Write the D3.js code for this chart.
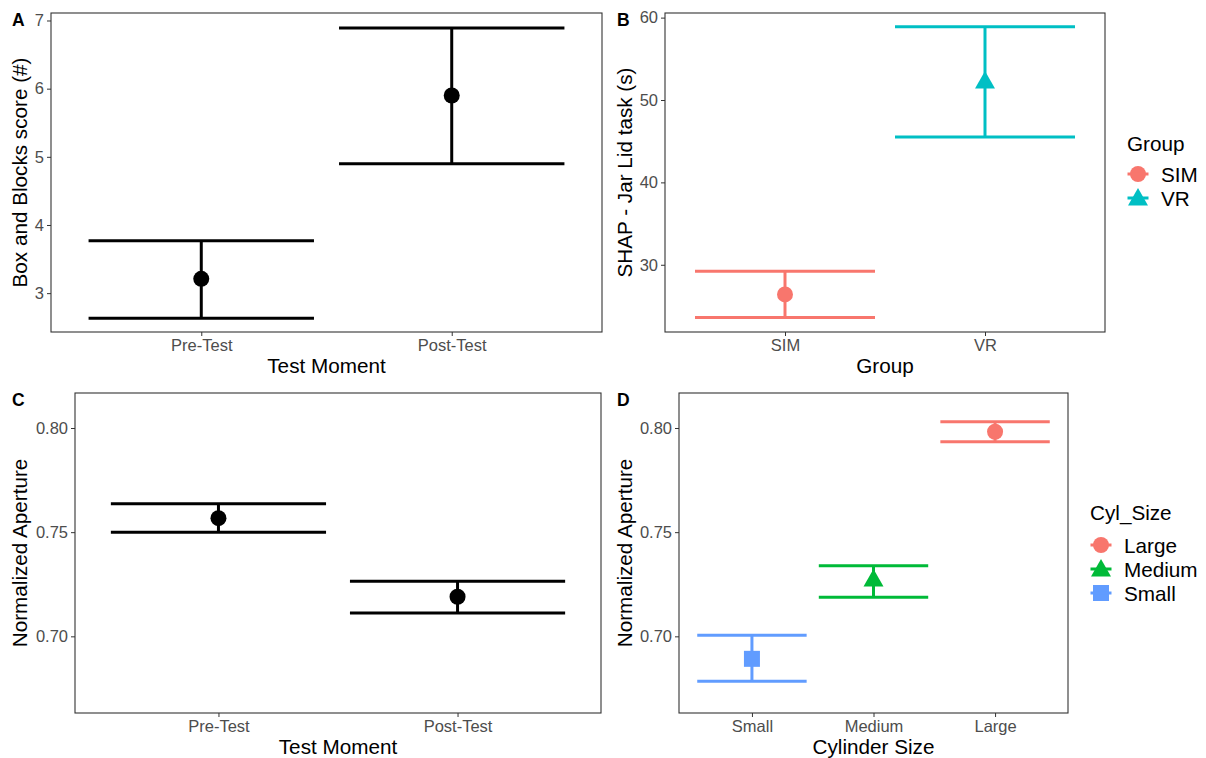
<!DOCTYPE html>
<html>
<head>
<meta charset="utf-8">
<script src="https://cdn.jsdelivr.net/npm/d3@7"></script>
<style>
  body { margin: 0; background: #fff; }
  svg { font-family: "Liberation Sans", Arial, sans-serif; }
</style>
</head>
<body>
<svg id="chart" width="1206" height="758"></svg>
<script>
// Panel A - Box and Blocks
const aCats = ["Pre-Test", "Post-Test"];
const aMean = [3.21, 5.90];
const aLow = [2.63, 4.90];
const aHigh = [3.77, 6.89];

// Panel B - SHAP jar lid
const bCats = ["SIM", "VR"];
const bMean = [26.4, 52.3];
const bLow = [23.6, 45.5];
const bHigh = [29.2, 58.9];

// Panel C - aperture by test moment
const cCats = ["Pre-Test", "Post-Test"];
const cMean = [0.7567, 0.7190];
const cLow = [0.7500, 0.7112];
const cHigh = [0.7636, 0.7265];

// Panel D - aperture by cylinder size
const dCats = ["Small", "Medium", "Large"];
const dMean = [0.6892, 0.7275, 0.7982];
const dLow = [0.6785, 0.7188, 0.7934];
const dHigh = [0.7005, 0.7339, 0.8030];

const yTicksA = [3, 4, 5, 6, 7];
const yTicksB = [30, 40, 50, 60];
const yTicksCD = [0.70, 0.75, 0.80];

const svg = d3.select("#chart");
const TICK_FS = 16.5, TITLE_FS = 20.7;

function panel(o) {
  const g = svg.append("g");
  const n = o.cats.length;
  const x = d3.scaleLinear().domain([0.4, n + 0.6]).range([o.x0, o.x1]);
  const y = d3.scaleLinear().domain(o.ydom).range([o.y1, o.y0]);

  // panel letter
  g.append("text").attr("x", o.letterX).attr("y", o.y0 + 13)
    .attr("font-size", 17.5).attr("font-weight", "bold").text(o.letter);

  // error bars
  o.cats.forEach((c, i) => {
    const cx = x(i + 1), col = o.colors[i];
    const hw = x(1.45) - x(1);
    const eb = g.append("g").attr("stroke", col).attr("stroke-width", 3).attr("fill", "none");
    eb.append("line").attr("x1", cx - hw).attr("x2", cx + hw).attr("y1", y(o.high[i])).attr("y2", y(o.high[i]));
    eb.append("line").attr("x1", cx - hw).attr("x2", cx + hw).attr("y1", y(o.low[i])).attr("y2", y(o.low[i]));
    eb.append("line").attr("x1", cx).attr("x2", cx).attr("y1", y(o.high[i])).attr("y2", y(o.low[i]));
    symbol(g, o.shapes[i], cx, y(o.mean[i]), col);
  });

  // border
  g.append("rect").attr("x", o.x0).attr("y", o.y0)
    .attr("width", o.x1 - o.x0).attr("height", o.y1 - o.y0)
    .attr("fill", "none").attr("stroke", "#333").attr("stroke-width", 1.1);

  // y axis
  const ya = g.append("g").attr("transform", `translate(${o.x0},0)`)
    .call(d3.axisLeft(y).tickValues(o.yticks).tickSize(4).tickPadding(3).tickFormat(o.yfmt));
  ya.select(".domain").remove();
  ya.selectAll("line").attr("stroke", "#333");
  ya.selectAll("text").attr("fill", "#4d4d4d").attr("font-size", TICK_FS).attr("font-family", "Liberation Sans, Arial, sans-serif");

  // x axis
  const xa = g.append("g").attr("transform", `translate(0,${o.y1})`)
    .call(d3.axisBottom(x).tickValues(d3.range(1, n + 1)).tickSize(4).tickPadding(3).tickFormat(d => o.cats[d - 1]));
  xa.select(".domain").remove();
  xa.selectAll("line").attr("stroke", "#333");
  xa.selectAll("text").attr("fill", "#4d4d4d").attr("font-size", TICK_FS).attr("font-family", "Liberation Sans, Arial, sans-serif");

  g.append("text").attr("x", (o.x0 + o.x1) / 2).attr("y", o.y1 + 41)
    .attr("text-anchor", "middle").attr("font-size", TITLE_FS).text(o.xtitle);
  g.append("text").attr("transform", `translate(${o.letterX + 15},${(o.y0 + o.y1) / 2}) rotate(-90)`)
    .attr("text-anchor", "middle").attr("font-size", TITLE_FS).text(o.ytitle);

  if (o.legend) {
    const lg = o.legend;
    const l = svg.append("g").attr("transform", `translate(${lg.x},${lg.y})`);
    l.append("text").attr("x", 0).attr("y", 0).attr("font-size", TITLE_FS).text(lg.title);
    lg.items.forEach((it, i) => {
      const yy = lg.first + i * 24;
      symbol(l, it.shape, 11, yy, it.color);
      l.append("line").attr("x1", 0.5).attr("x2", 21.5).attr("y1", yy).attr("y2", yy)
        .attr("stroke", it.color).attr("stroke-width", 3);
      l.append("text").attr("x", 34).attr("y", yy + 7.5).attr("font-size", TITLE_FS).text(it.label);
    });
  }
}

function symbol(g, shape, cx, cy, col) {
  if (shape === "circle") {
    g.append("circle").attr("cx", cx).attr("cy", cy).attr("r", 8).attr("fill", col);
  } else if (shape === "triangle") {
    g.append("path").attr("d", `M${cx},${cy - 10} L${cx + 10},${cy + 7.5} L${cx - 10},${cy + 7.5} Z`).attr("fill", col);
  } else {
    g.append("rect").attr("x", cx - 8).attr("y", cy - 8).attr("width", 16).attr("height", 16).attr("fill", col);
  }
}

const fmt2 = d3.format(".2f");

panel({ letter: "A", letterX: 12, x0: 51, x1: 602, y0: 13, y1: 332,
  cats: aCats, mean: aMean, low: aLow, high: aHigh, ydom: [2.43, 7.11], yticks: yTicksA, yfmt: d3.format("d"),
  colors: ["#000", "#000"], shapes: ["circle", "circle"],
  xtitle: "Test Moment", ytitle: "Box and Blocks score (#)" });

panel({ letter: "B", letterX: 617, x0: 665, x1: 1105, y0: 13, y1: 332,
  cats: bCats, mean: bMean, low: bLow, high: bHigh, ydom: [21.84, 60.56], yticks: yTicksB, yfmt: d3.format("d"),
  colors: ["#F8766D", "#00BFC4"], shapes: ["circle", "triangle"],
  xtitle: "Group", ytitle: "SHAP - Jar Lid task (s)",
  legend: { x: 1127, y: 151, first: 23, title: "Group", items: [
    { label: "SIM", color: "#F8766D", shape: "circle" },
    { label: "VR", color: "#00BFC4", shape: "triangle" }] } });

panel({ letter: "C", letterX: 12, x0: 75, x1: 601, y0: 393, y1: 713,
  cats: cCats, mean: cMean, low: cLow, high: cHigh, ydom: [0.6632, 0.8168], yticks: yTicksCD, yfmt: fmt2,
  colors: ["#000", "#000"], shapes: ["circle", "circle"],
  xtitle: "Test Moment", ytitle: "Normalized Aperture" });

panel({ letter: "D", letterX: 617, x0: 679, x1: 1068, y0: 393, y1: 713,
  cats: dCats, mean: dMean, low: dLow, high: dHigh, ydom: [0.6632, 0.8168], yticks: yTicksCD, yfmt: fmt2,
  colors: ["#619CFF", "#00BA38", "#F8766D"], shapes: ["square", "triangle", "circle"],
  xtitle: "Cylinder Size", ytitle: "Normalized Aperture",
  legend: { x: 1090, y: 520, first: 25, title: "Cyl_Size", items: [
    { label: "Large", color: "#F8766D", shape: "circle" },
    { label: "Medium", color: "#00BA38", shape: "triangle" },
    { label: "Small", color: "#619CFF", shape: "square" }] } });
</script>
</body>
</html>
